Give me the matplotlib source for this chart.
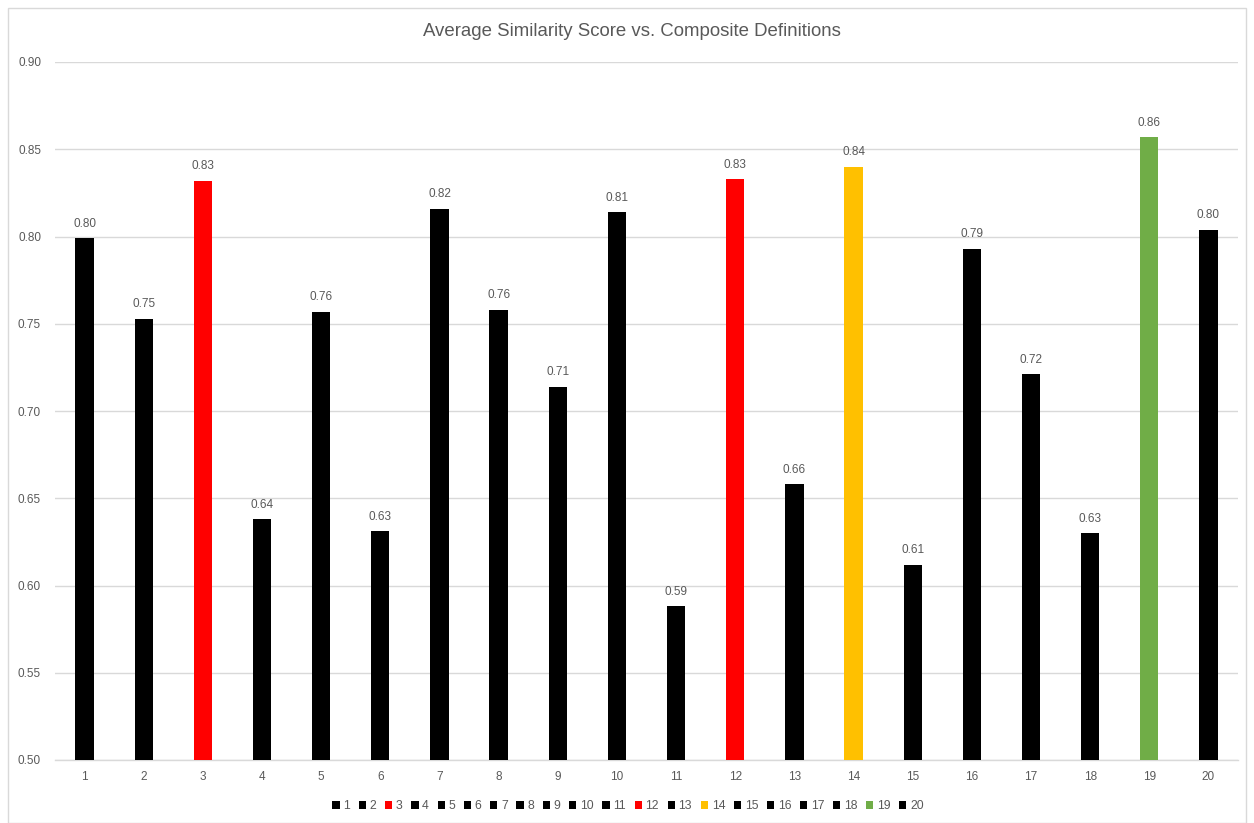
import matplotlib.pyplot as plt
from matplotlib.patches import Rectangle, Patch

plt.rcParams['font.family'] = ['Liberation Sans', 'DejaVu Sans']

definitions = [str(i) for i in range(1, 21)]
scores = [0.799, 0.753, 0.832, 0.638, 0.757, 0.631, 0.816, 0.758, 0.714, 0.814,
          0.588, 0.833, 0.658, 0.840, 0.612, 0.793, 0.721, 0.630, 0.857, 0.804]
bar_colors = ['#000000', '#000000', '#FF0000', '#000000', '#000000', '#000000',
              '#000000', '#000000', '#000000', '#000000', '#000000', '#FF0000',
              '#000000', '#FFC000', '#000000', '#000000', '#000000', '#000000',
              '#70AD47', '#000000']
title = 'Average Similarity Score vs. Composite Definitions'

W, H = 1254, 823
fig = plt.figure(figsize=(W / 100, H / 100), dpi=100)
fig.patch.set_facecolor('white')

# chart border
fig.patches.append(Rectangle((8 / W, 0.5 / H), (W - 8.5) / W - 8 / W, (H - 8) / H - 0.5 / H,
                             transform=fig.transFigure, fill=False,
                             edgecolor='#D9D9D9', linewidth=1.0))

left, right, top, bottom = 55, 1238, 62, 760
ax = fig.add_axes([left / W, 1 - bottom / H, (right - left) / W, (bottom - top) / H])

x = list(range(len(definitions)))
bars = ax.bar(x, [s - 0.5 for s in scores], bottom=0.5, width=0.31, color=bar_colors,
              zorder=3)

ax.set_xlim(-0.5, len(definitions) - 0.5)
ax.set_ylim(0.5, 0.9)
ax.set_yticks([0.50 + 0.05 * i for i in range(9)])
ax.set_yticklabels([f'{0.50 + 0.05 * i:.2f}' for i in range(9)])
ax.set_xticks(x)
ax.set_xticklabels(definitions)

ax.grid(axis='y', color='#D9D9D9', linewidth=1.0, zorder=0)
for side in ['top', 'right', 'left']:
    ax.spines[side].set_visible(False)
ax.spines['bottom'].set_color('#D9D9D9')
ax.spines['bottom'].set_linewidth(1.0)
ax.tick_params(axis='both', length=0, colors='#595959', labelsize=8.5)
ax.tick_params(axis='y', pad=10)
ax.tick_params(axis='x', pad=8)

for xi, s in zip(x, scores):
    ax.annotate(f'{s:.2f}', (xi, s), xytext=(0, 6), textcoords='offset points',
                ha='center', va='bottom', fontsize=8.5, color='#595959')

fig.text(631.5 / W, 1 - 31 / H, title, ha='center', va='center',
         fontsize=13.4, color='#595959')

handles = [Patch(facecolor=c, edgecolor='none') for c in bar_colors]
leg = fig.legend(handles, definitions, loc='center', bbox_to_anchor=(628 / W, 1 - 806 / H),
                 ncol=20, frameon=False, fontsize=8.8, handlelength=0.6, handleheight=0.6,
                 handletextpad=0.3, columnspacing=0.7)
for t in leg.get_texts():
    t.set_color('#595959')

fig.savefig('out.png', dpi=100)
